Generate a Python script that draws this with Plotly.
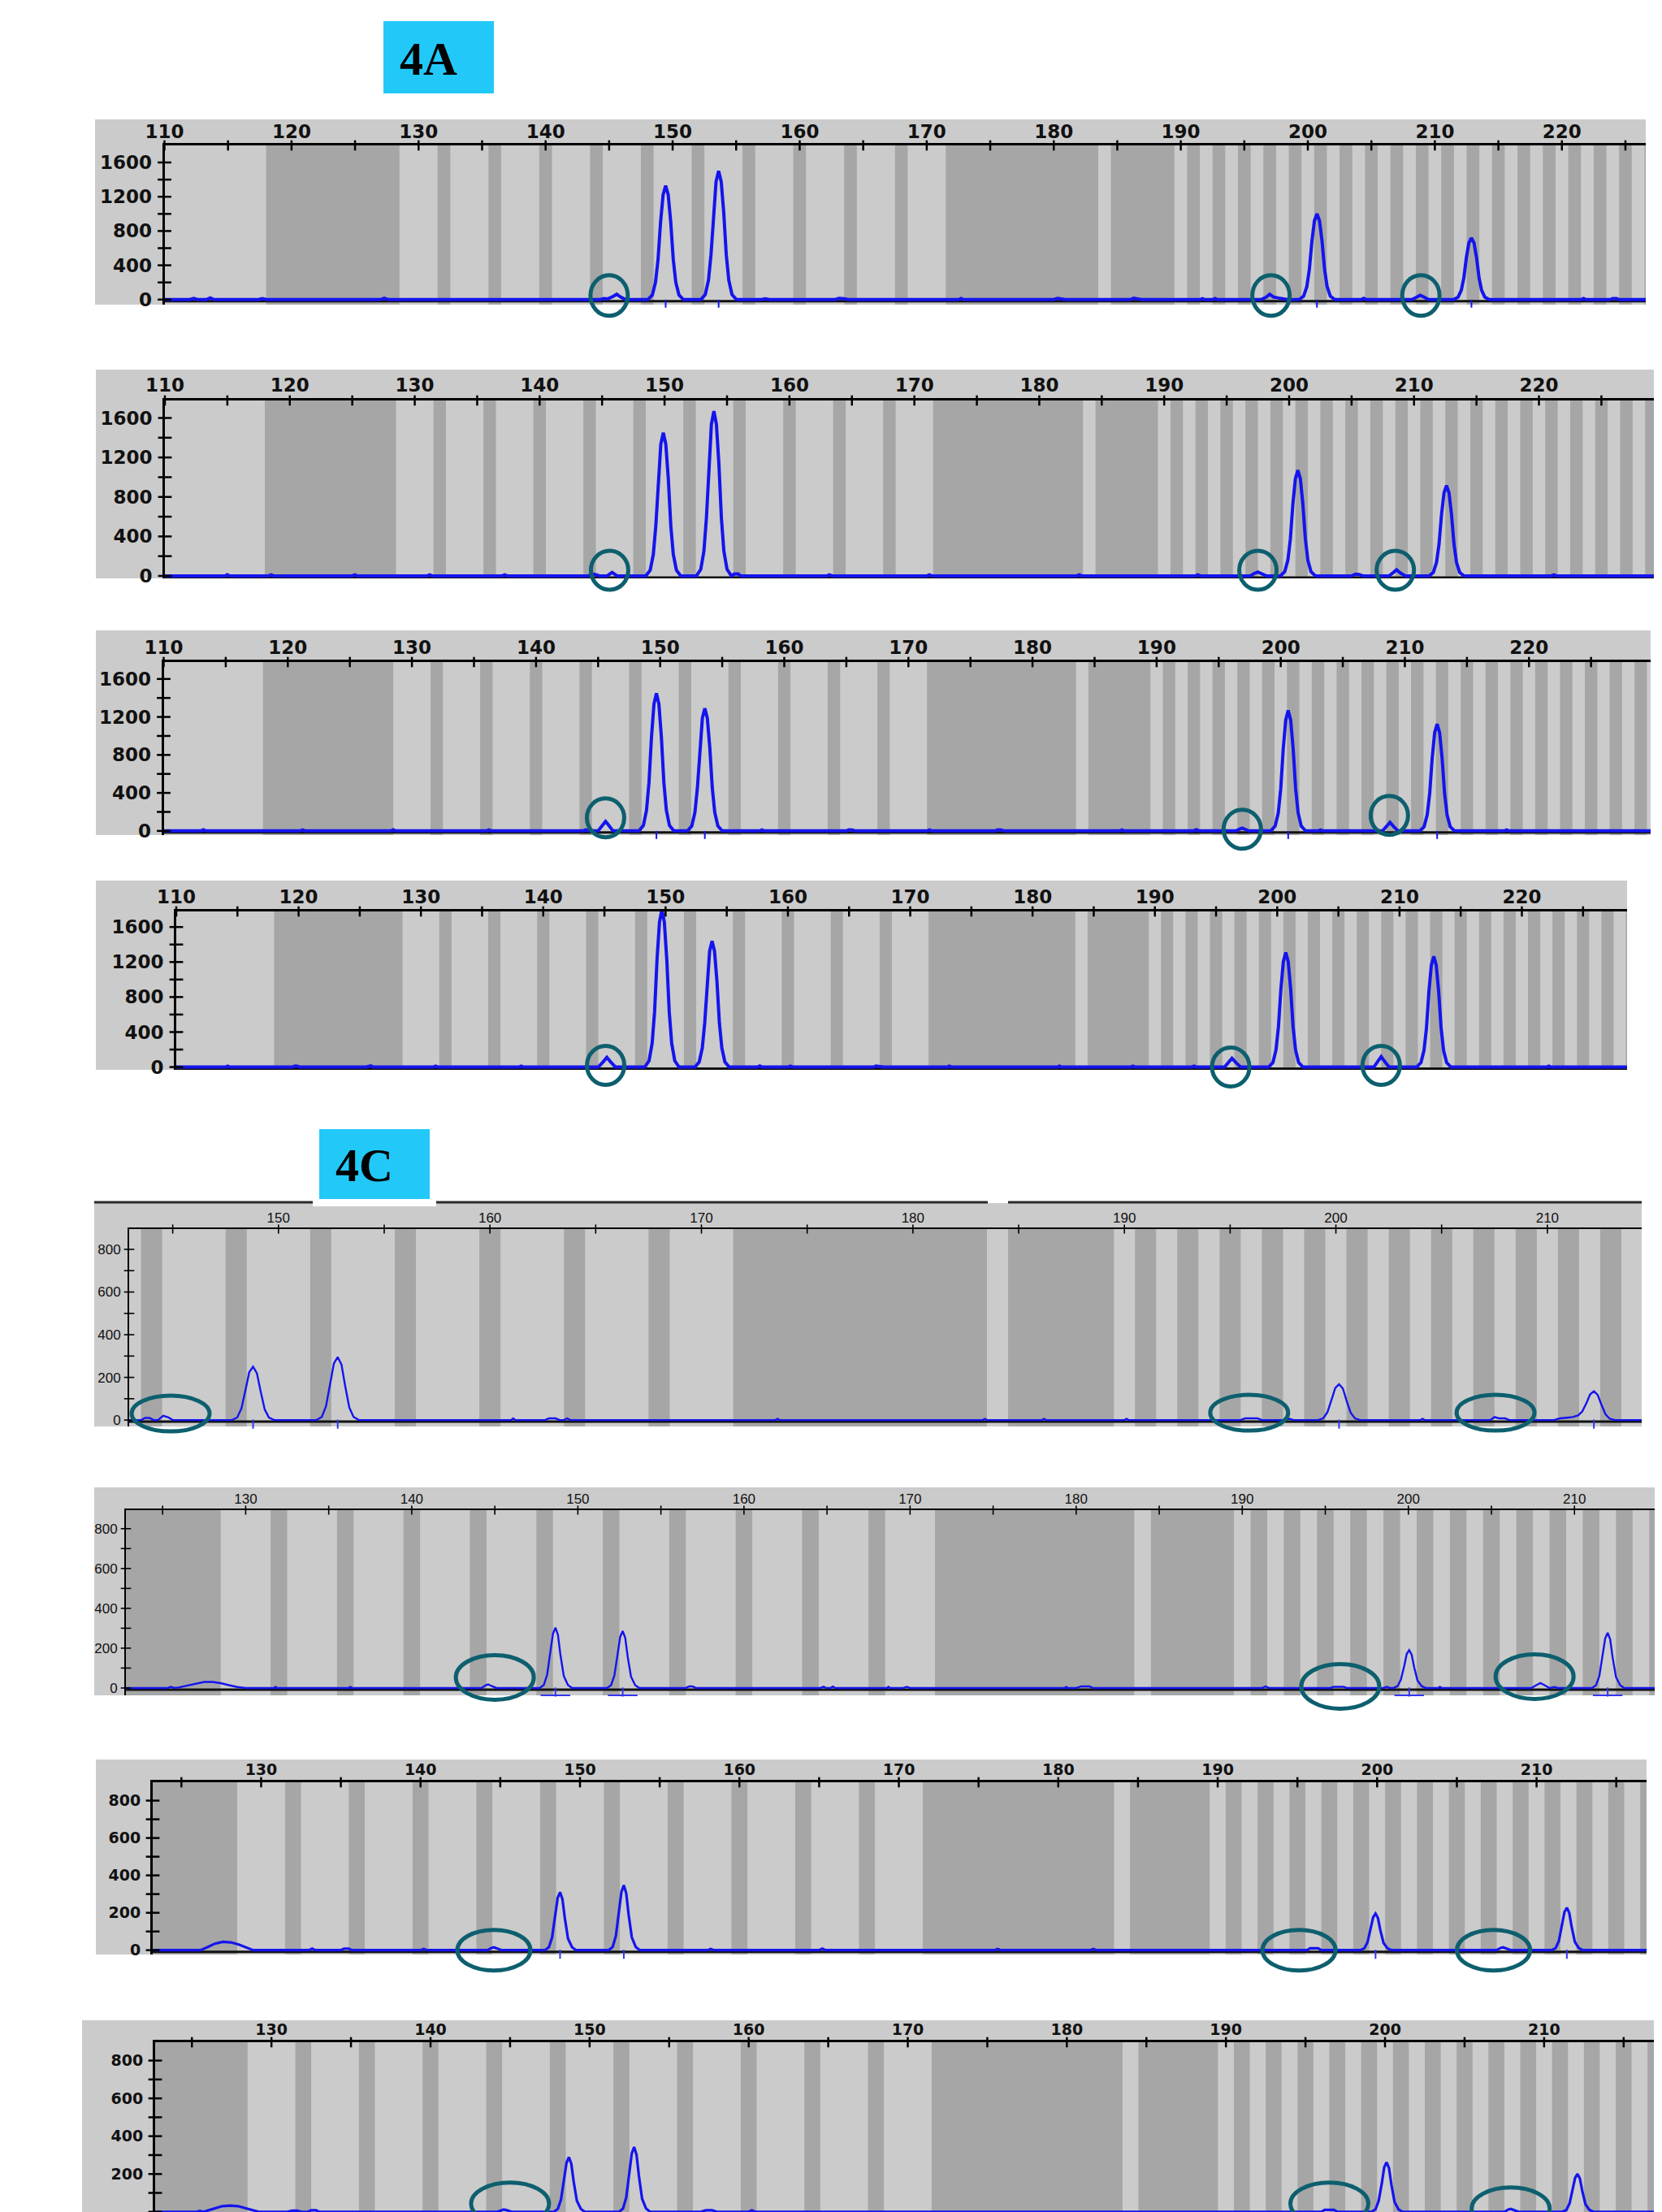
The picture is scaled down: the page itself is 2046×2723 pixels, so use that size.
import plotly.graph_objects as go

W, H = 2046, 2723

# ---------------- data ----------------
# dark allele bins (bp)
BINS = [[118.0, 128.5], [131.5, 132.5], [135.5, 136.5], [139.5, 140.5], [143.5, 144.5],
        [147.5, 148.5], [151.5, 152.5], [155.5, 156.5], [159.5, 160.5], [163.5, 164.5],
        [167.5, 168.5], [171.5, 183.5], [184.5, 189.5], [190.5, 191.5], [192.5, 193.5],
        [194.5, 195.5], [196.5, 197.5], [198.5, 199.5], [200.5, 201.5], [202.5, 203.5],
        [204.5, 205.5], [206.5, 207.5], [208.5, 209.5], [210.5, 211.5], [212.5, 213.5],
        [214.5, 215.5], [216.5, 217.5], [218.5, 219.5], [220.5, 221.5], [222.5, 223.5],
        [224.5, 225.5], [226.5, 227.5], [228.5, 229.5]]

# electropherogram traces (size bp, RFU)
P1 = [(110, 0), (112.0, 0), (112.3, 14), (112.6, 0), (113.3, 0), (113.6, 20), (113.9, 0), (117.4, 0), (117.7, 12), (118.0, 0),
      (127.0, 0), (127.3, 15), (127.6, 0), (144.3, 0), (144.6, 12), (144.9, 8), (145.3, 35), (145.6, 62), (145.9, 30), (146.3, 0),
      (148.05, 0), (148.4, 53), (148.65, 200), (148.85, 466), (149.05, 904), (149.25, 1224), (149.45, 1330), (149.65, 1224), (149.85, 904), (150.05, 466), (150.25, 200), (150.5, 53), (150.85, 0),
      (152.22, 0), (152.57, 60), (152.82, 225), (153.02, 525), (153.22, 1020), (153.42, 1380), (153.62, 1500), (153.82, 1380), (154.02, 1020), (154.22, 525), (154.42, 225), (154.67, 60), (155.02, 0),
      (157.0, 0), (157.3, 10), (157.6, 0), (162.8, 0), (163.1, 14), (163.5, 10), (163.8, 0),
      (172.5, 0), (172.7, 12), (172.9, 0), (180.0, 0), (180.3, 14), (180.6, 10), (180.9, 0), (186.0, 0), (186.3, 16), (186.6, 8), (186.9, 0),
      (191.5, 0), (191.7, 10), (191.9, 0), (192.5, 0), (192.7, 12), (192.9, 0),
      (196.3, 0), (196.7, 25), (197.0, 62), (197.3, 30), (197.7, 18), (198.1, 8), (198.4, 0),
      (199.32, 0), (199.67, 40), (199.92, 150), (200.12, 350), (200.32, 680), (200.52, 920), (200.72, 1000), (200.92, 920), (201.12, 680), (201.32, 350), (201.52, 150), (201.77, 40), (202.12, 0),
      (204.2, 0), (204.4, 14), (204.6, 0),
      (208.2, 0), (208.55, 28), (208.85, 50), (209.15, 28), (209.5, 0),
      (211.48, 0), (211.83, 29), (212.08, 108), (212.28, 252), (212.48, 490), (212.68, 662), (212.88, 720), (213.08, 662), (213.28, 490), (213.48, 252), (213.68, 108), (213.93, 29), (214.28, 0),
      (221.5, 0), (221.7, 12), (221.9, 0), (223.8, 0), (224.0, 12), (224.3, 12), (224.5, 0), (226.6, 0)]

P2 = [(110, 0), (114.8, 0), (115.0, 12), (115.2, 0), (118.3, 0), (118.5, 10), (118.7, 0), (125.0, 0), (125.2, 10), (125.4, 0),
      (131.0, 0), (131.2, 10), (131.4, 0), (137.0, 0), (137.2, 10), (137.4, 0),
      (143.9, 0), (144.2, 20), (144.5, 12), (144.8, 0), (145.4, 0), (145.8, 35), (146.2, 0),
      (148.5, 0), (148.85, 58), (149.1, 218), (149.3, 508), (149.5, 986), (149.7, 1334), (149.9, 1450), (150.1, 1334), (150.3, 986), (150.5, 508), (150.7, 218), (150.95, 58), (151.3, 0),
      (152.55, 0), (152.9, 67), (153.15, 250), (153.35, 585), (153.55, 1136), (153.75, 1536), (153.95, 1670), (154.15, 1536), (154.35, 1136), (154.55, 585), (154.75, 250), (155.0, 67), (155.35, 0),
      (155.6, 20), (155.9, 20), (156.1, 0), (163.0, 0), (163.2, 10), (163.4, 0), (171.0, 0), (171.2, 10), (171.4, 0),
      (183.0, 0), (183.2, 10), (183.4, 0), (192.5, 0), (192.7, 10), (192.9, 0),
      (196.9, 0), (197.2, 25), (197.5, 40), (197.8, 22), (198.2, 0),
      (199.3, 0), (199.65, 43), (199.9, 160), (200.1, 375), (200.3, 728), (200.5, 984), (200.7, 1070), (200.9, 984), (201.1, 728), (201.3, 375), (201.5, 160), (201.75, 43), (202.1, 0),
      (205.0, 0), (205.3, 18), (205.6, 15), (205.9, 0),
      (208.0, 0), (208.3, 30), (208.6, 62), (208.9, 30), (209.3, 0),
      (211.2, 0), (211.55, 37), (211.8, 137), (212.0, 320), (212.2, 622), (212.4, 842), (212.6, 915), (212.8, 842), (213.0, 622), (213.2, 320), (213.4, 137), (213.65, 37), (214.0, 0),
      (221.0, 0), (221.2, 10), (221.4, 0), (229.2, 0)]

P3 = [(110, 0), (113.0, 0), (113.2, 12), (113.4, 0), (121.0, 0), (121.2, 10), (121.4, 0), (128.3, 0), (128.5, 12), (128.7, 0),
      (136.0, 0), (136.2, 10), (136.4, 0),
      (143.8, 0), (144.0, 12), (144.2, 0), (145.0, 0), (145.35, 55), (145.6, 100), (145.85, 60), (146.2, 0),
      (148.3, 0), (148.65, 58), (148.9, 218), (149.1, 508), (149.3, 986), (149.5, 1334), (149.7, 1450), (149.9, 1334), (150.1, 986), (150.3, 508), (150.5, 218), (150.75, 58), (151.1, 0),
      (152.2, 0), (152.55, 52), (152.8, 194), (153.0, 452), (153.2, 877), (153.4, 1187), (153.6, 1290), (153.8, 1187), (154.0, 877), (154.2, 452), (154.4, 194), (154.65, 52), (155.0, 0),
      (158.0, 0), (158.2, 10), (158.4, 0), (165.0, 0), (165.2, 12), (165.5, 10), (165.7, 0), (171.5, 0), (171.7, 10), (171.9, 0),
      (177.0, 0), (177.2, 12), (177.5, 10), (177.7, 0), (187.0, 0), (187.2, 10), (187.4, 0), (193.0, 0), (193.2, 14), (193.4, 0),
      (196.4, 0), (196.7, 20), (196.9, 30), (197.1, 18), (197.4, 0),
      (199.2, 0), (199.55, 51), (199.8, 190), (200.0, 444), (200.2, 864), (200.4, 1168), (200.6, 1270), (200.8, 1168), (201.0, 864), (201.2, 444), (201.4, 190), (201.65, 51), (202.0, 0),
      (203.0, 0), (203.2, 10), (203.4, 0),
      (208.2, 0), (208.5, 45), (208.8, 90), (209.1, 45), (209.45, 0),
      (211.2, 0), (211.55, 45), (211.8, 169), (212.0, 394), (212.2, 765), (212.4, 1035), (212.6, 1125), (212.8, 1035), (213.0, 765), (213.2, 394), (213.4, 169), (213.65, 45), (214.0, 0),
      (218.0, 0), (218.2, 10), (218.4, 0), (229.8, 0)]

P4 = [(110, 0), (114.0, 0), (114.2, 10), (114.4, 0), (119.5, 0), (119.7, 12), (119.9, 10), (120.1, 0), (125.5, 0), (125.7, 10), (125.9, 14), (126.1, 0),
      (131.0, 0), (131.2, 10), (131.4, 0), (138.0, 0), (138.2, 10), (138.4, 0),
      (144.5, 0), (144.9, 60), (145.2, 110), (145.5, 60), (145.9, 0),
      (148.3, 0), (148.65, 72), (148.9, 270), (149.1, 630), (149.3, 1224), (149.5, 1656), (149.7, 1800), (149.9, 1656), (150.1, 1224), (150.3, 630), (150.5, 270), (150.75, 72), (151.1, 0),
      (152.4, 0), (152.75, 58), (153.0, 216), (153.2, 504), (153.4, 979), (153.6, 1325), (153.8, 1440), (154.0, 1325), (154.2, 979), (154.4, 504), (154.6, 216), (154.85, 58), (155.2, 0),
      (157.5, 0), (157.7, 12), (157.9, 0), (160.0, 0), (160.2, 10), (160.4, 0), (167.0, 0), (167.2, 12), (167.6, 10), (167.8, 0),
      (173.0, 0), (173.2, 10), (173.4, 0), (182.0, 0), (182.2, 10), (182.4, 0), (188.0, 0), (188.2, 10), (188.4, 0), (193.0, 0), (193.2, 10), (193.4, 0),
      (195.7, 0), (196.0, 55), (196.3, 100), (196.6, 55), (197.0, 0),
      (199.3, 0), (199.65, 52), (199.9, 196), (200.1, 458), (200.3, 891), (200.5, 1205), (200.7, 1310), (200.9, 1205), (201.1, 891), (201.3, 458), (201.5, 196), (201.75, 52), (202.1, 0),
      (207.9, 0), (208.2, 60), (208.5, 120), (208.8, 60), (209.15, 0),
      (211.4, 0), (211.75, 51), (212.0, 190), (212.2, 443), (212.4, 860), (212.6, 1164), (212.8, 1265), (213.0, 1164), (213.2, 860), (213.4, 443), (213.6, 190), (213.85, 51), (214.2, 0),
      (222.0, 0), (222.2, 10), (222.4, 0), (228.6, 0)]

P5 = [(142.94, 0), (143.5, 0), (143.7, 10), (143.9, 10), (144.1, 0), (144.3, 0), (144.55, 20), (144.8, 12), (145.0, 0),
      (147.8, 0), (148.05, 12), (148.25, 55), (148.45, 145), (148.62, 225), (148.8, 250), (148.98, 220), (149.15, 138), (149.35, 50), (149.55, 12), (149.8, 0),
      (151.8, 0), (152.05, 15), (152.25, 65), (152.45, 171), (152.62, 265), (152.8, 295), (152.98, 260), (153.15, 162), (153.35, 59), (153.55, 15), (153.8, 0),
      (161.0, 0), (161.1, 8), (161.2, 0), (162.6, 0), (162.8, 8), (163.1, 8), (163.3, 0), (163.5, 0), (163.65, 8), (163.8, 0),
      (173.5, 0), (173.6, 6), (173.7, 0), (183.3, 0), (183.4, 6), (183.5, 0), (186.1, 0), (186.2, 6), (186.3, 0), (190.0, 0), (190.1, 6), (190.2, 0),
      (195.5, 0), (195.7, 8), (196.3, 8), (196.5, 0), (197.6, 0), (197.8, 6), (198.0, 0),
      (199.15, 0), (199.4, 8), (199.6, 37), (199.8, 97), (199.97, 150), (200.15, 168), (200.33, 148), (200.5, 92), (200.7, 34), (200.9, 8), (201.15, 0),
      (204.0, 0), (204.1, 6), (204.2, 0),
      (207.3, 0), (207.5, 14), (207.7, 8), (208.0, 8), (208.2, 0),
      (210.3, 0), (210.6, 8), (211.0, 12),
      (211.2, 14), (211.45, 22), (211.65, 40), (211.85, 80), (212.02, 120), (212.2, 135), (212.38, 118), (212.55, 74), (212.75, 27), (212.95, 6), (213.2, 0),
      (214.46, 0)]

P6 = [(122.79, 0), (125.3, 0), (125.5, 6), (125.7, 0), (126.0, 3), (126.5, 12), (127.0, 22), (127.5, 30), (128.0, 30), (128.5, 24), (129.0, 14), (129.5, 5), (130.0, 0),
      (131.7, 0), (131.8, 6), (131.9, 0), (136.2, 0), (136.3, 6), (136.4, 0),
      (144.2, 0), (144.45, 14), (144.6, 18), (144.8, 10), (145.1, 0),
      (147.7, 0), (147.95, 15), (148.15, 67), (148.35, 176), (148.5, 273), (148.65, 303), (148.8, 267), (148.95, 167), (149.15, 61), (149.4, 15), (149.65, 0),
      (151.75, 0), (152.0, 14), (152.2, 63), (152.4, 166), (152.55, 257), (152.7, 286), (152.85, 252), (153.0, 157), (153.2, 57), (153.45, 14), (153.7, 0),
      (156.5, 0), (156.7, 8), (156.9, 8), (157.1, 0), (164.6, 0), (164.8, 7), (164.95, 0), (165.2, 0), (165.35, 7), (165.5, 0), (168.6, 0), (168.7, 6), (168.8, 0),
      (169.6, 0), (169.8, 6), (170.0, 0), (179.3, 0), (179.4, 6), (179.5, 0), (180.0, 0), (180.3, 8), (180.8, 8), (181.0, 0), (191.2, 0), (191.4, 8), (191.6, 0),
      (195.3, 0), (195.5, 6), (196.1, 6), (196.3, 0), (198.5, 0), (198.7, 6), (198.9, 0),
      (199.1, 0), (199.35, 9), (199.55, 42), (199.75, 110), (199.9, 171), (200.05, 190), (200.2, 167), (200.35, 104), (200.55, 38), (200.8, 9), (201.05, 0),
      (201.8, 0), (201.9, 6), (202.0, 0),
      (207.4, 0), (207.7, 14), (207.95, 25), (208.2, 14), (208.5, 0), (208.8, 5), (209.0, 0),
      (211.05, 0), (211.3, 14), (211.5, 61), (211.7, 161), (211.85, 249), (212.0, 277), (212.15, 244), (212.3, 152), (212.5, 55), (212.75, 14), (213.0, 0),
      (214.83, 0)]

P7 = [(123.2, 0), (126.2, 0), (126.6, 15), (127.1, 35), (127.6, 45), (128.1, 42), (128.6, 30), (129.1, 12), (129.5, 0),
      (133.0, 0), (133.2, 8), (133.4, 0), (135.0, 0), (135.2, 8), (135.5, 8), (135.7, 0), (140.0, 0), (140.2, 6), (140.4, 0),
      (144.2, 0), (144.45, 12), (144.6, 15), (144.8, 10), (145.1, 0),
      (147.8, 0), (148.05, 16), (148.25, 68), (148.45, 180), (148.6, 280), (148.75, 310), (148.9, 273), (149.05, 171), (149.25, 62), (149.5, 16), (149.75, 0),
      (151.8, 0), (152.05, 17), (152.25, 76), (152.45, 201), (152.6, 312), (152.75, 347), (152.9, 305), (153.05, 191), (153.25, 69), (153.5, 17), (153.75, 0),
      (158.0, 0), (158.2, 6), (158.4, 0), (165.0, 0), (165.2, 8), (165.4, 0), (176.0, 0), (176.2, 6), (176.4, 0), (182.0, 0), (182.2, 6), (182.4, 0),
      (195.6, 0), (195.8, 10), (196.3, 10), (196.5, 0),
      (198.95, 0), (199.2, 10), (199.4, 43), (199.6, 114), (199.75, 176), (199.9, 196), (200.05, 172), (200.2, 108), (200.4, 39), (200.65, 10), (200.9, 0),
      (207.5, 0), (207.75, 12), (207.9, 15), (208.1, 10), (208.4, 0),
      (210.95, 0), (211.2, 11), (211.4, 50), (211.6, 132), (211.75, 204), (211.9, 227), (212.05, 200), (212.2, 125), (212.4, 45), (212.65, 11), (212.9, 0),
      (216.9, 0)]

P8 = [(122.69, 0), (125.3, 0), (125.5, 5), (125.7, 0), (125.9, 4), (126.4, 16), (126.9, 30), (127.4, 33), (127.9, 30), (128.4, 18), (128.9, 6), (129.2, 0),
      (131.0, 0), (131.3, 6), (131.6, 6), (131.9, 0), (132.3, 0), (132.5, 8), (132.8, 8), (133.0, 0),
      (144.2, 0), (144.45, 9), (144.6, 12), (144.8, 8), (145.1, 0),
      (147.75, 0), (148.0, 15), (148.2, 64), (148.4, 168), (148.55, 260), (148.7, 289), (148.85, 254), (149.0, 159), (149.2, 58), (149.45, 15), (149.7, 0),
      (151.85, 0), (152.1, 17), (152.3, 75), (152.5, 199), (152.65, 309), (152.8, 343), (152.95, 302), (153.1, 189), (153.3, 69), (153.55, 17), (153.8, 0),
      (157.0, 0), (157.3, 8), (157.7, 8), (158.0, 0), (160.0, 0), (160.2, 8), (160.4, 0),
      (196.0, 0), (196.2, 10), (196.8, 10), (197.0, 0),
      (199.15, 0), (199.4, 13), (199.6, 58), (199.8, 152), (199.95, 236), (200.1, 262), (200.25, 231), (200.4, 144), (200.6, 52), (200.85, 13), (201.1, 0),
      (207.5, 0), (207.75, 12), (207.9, 15), (208.1, 10), (208.4, 0),
      (211.15, 0), (211.4, 10), (211.6, 44), (211.8, 116), (211.95, 180), (212.1, 200), (212.25, 176), (212.4, 110), (212.6, 40), (212.85, 10), (213.1, 0),
      (216.9, 0)]

# called allele peaks (bp)
CALLS = [[149.45, 153.62, 200.72, 212.88], [149.9, 153.95, 200.7, 212.6], [149.7, 153.6, 200.6, 212.6],
         [149.7, 153.8, 200.7, 212.8], [148.8, 152.8, 200.15, 212.2], [148.65, 152.7, 200.05, 212.0],
         [148.75, 152.75, 199.9, 211.9], [148.7, 152.8, 200.1, 212.1]]

# circled stutter / minor products (bp)
CIRCLES = [[145.0, 197.1, 208.9], [145.6, 197.5, 208.5], [145.6, 196.9, 208.75], [145.1, 196.2, 208.5],
           [144.9, 195.9, 207.55], [145.0, 195.9, 207.6], [144.6, 195.1, 207.3], [145.0, 196.5, 207.9]]

X_LABELS_A = [110, 120, 130, 140, 150, 160, 170, 180, 190, 200, 210, 220]
X_LABELS_B = [150, 160, 170, 180, 190, 200, 210]
X_LABELS_C = [130, 140, 150, 160, 170, 180, 190, 200, 210]
Y_LABELS_A = [0, 400, 800, 1200, 1600]
Y_LABELS_C = [0, 200, 400, 600, 800]

PANEL_LABELS = ["4A", "4C"]

# ---------------- layout geometry (pixels) ----------------
FONT_A = dict(family="DejaVu Sans", size=23, color="#111111", weight="bold")
FONT_B = dict(family="Liberation Sans, Arial", size=17, color="#111111")
FONT_C = dict(family="DejaVu Sans", size=19, color="#111111", weight="bold")

PANELS = [
    dict(data=P1, box=[117, 2026, 147, 375], plot=[202.5, 2026, 179, 375], xr=[110, 226.6], yr=[-59, 1799],
         xl=X_LABELS_A, yl=Y_LABELS_A, ystep=200, font=FONT_A, lw=3, tw=4.0, circ=(46, 50), cdy=[5, 5, 5], style="A", xso=-3),
    dict(data=P2, box=[118, 2036, 455, 712], plot=[203, 2036, 493, 712], xr=[110, 229.2], yr=[-25, 1777],
         xl=X_LABELS_A, yl=Y_LABELS_A, ystep=200, font=FONT_A, lw=3, tw=4.0, circ=(46, 48), cdy=[7, 7, 7], style="A", xso=-1),
    dict(data=P3, box=[118, 2032, 776, 1028], plot=[201.5, 2032, 815, 1028], xr=[110, 229.8], yr=[-44, 1778],
         xl=X_LABELS_A, yl=Y_LABELS_A, ystep=200, font=FONT_A, lw=3, tw=4.0, circ=(46, 48), cdy=[16, 2, 19], style="A", xso=-2),
    dict(data=P4, box=[118, 2003, 1084, 1317], plot=[217, 2003, 1122, 1317], xr=[110, 228.6], yr=[-32, 1778],
         xl=X_LABELS_A, yl=Y_LABELS_A, ystep=200, font=FONT_A, lw=3, tw=4.0, circ=(46, 48), cdy=[2, 0, 2], style="A", xso=-2),
    dict(data=P5, box=[116, 2021, 1481, 1756], plot=[159, 2021, 1513, 1756], xr=[142.94, 214.46], yr=[-30, 895],
         xl=X_LABELS_B, yl=Y_LABELS_C, ystep=100, font=FONT_B, lw=2, tw=2.4, circ=(96, 44), cdy=[8, 9, 9], style="B", xso=-1),
    dict(data=P6, box=[116, 2037, 1831, 2087], plot=[155, 2037, 1859, 2087], xr=[122.79, 214.83], yr=[-37, 893],
         xl=X_LABELS_C, yl=Y_LABELS_C, ystep=100, font=FONT_B, lw=2, tw=2.4, circ=(96, 55), cdy=[13, 2, 14], style="B", xso=-1),
    dict(data=P7, box=[118, 2027, 2166, 2406], plot=[188, 2027, 2194, 2406], xr=[123.2, 216.9], yr=[-23, 898],
         xl=X_LABELS_C, yl=Y_LABELS_C, ystep=100, font=FONT_C, lw=3, tw=3.2, circ=(90, 50), cdy=[0, 0, 0], style="C", xso=-2),
    dict(data=P8, box=[101, 2036, 2487, 2723], plot=[191, 2036, 2514, 2723], xr=[122.69, 216.9], yr=[-1, 897],
         xl=X_LABELS_C, yl=Y_LABELS_C, ystep=100, font=FONT_C, lw=3, tw=3.2, circ=(96, 52), cdy=[10, 10, 4], style="C", xso=-2),
]

BOX_GRAY = "#cbcbcb"
BIN_GRAY = "#a6a6a6"
TRACE_BLUE = "#1414ee"
CIRCLE_TEAL = "#0d5f6e"
LABEL_CYAN = "#22c9f8"

fig = go.Figure()
shapes = []
annotations = []

def px(xp):
    return xp / W

def py(yp):
    return 1 - yp / H

# panel gray boxes (paper)
for p in PANELS:
    bx0, bx1, by0, by1 = p["box"]
    shapes.append(dict(type="rect", xref="paper", yref="paper", x0=px(bx0), x1=px(bx1), y0=py(by1), y1=py(by0),
                       fillcolor=BOX_GRAY, line=dict(width=0), layer="below"))

# 4C top border with gaps, white strip under label
for seg in [(116, 385), (537, 1216), (1241, 2021)]:
    shapes.append(dict(type="line", xref="paper", yref="paper", x0=px(seg[0]), x1=px(seg[1]), y0=py(1480), y1=py(1480),
                       line=dict(color="#2a2a2a", width=3), layer="below"))
shapes.append(dict(type="rect", xref="paper", yref="paper", x0=px(385), x1=px(537), y0=py(1485), y1=py(1470),
                   fillcolor="white", line=dict(width=0), layer="below"))

# label boxes
LABEL_BOXES = [[472, 608, 26, 115], [393, 529, 1390, 1476]]
LABEL_TEXT_POS = [[527, 72], [448, 1434]]
for (x0, x1, y0, y1), (tx, ty), txt in zip(LABEL_BOXES, LABEL_TEXT_POS, PANEL_LABELS):
    shapes.append(dict(type="rect", xref="paper", yref="paper", x0=px(x0), x1=px(x1), y0=py(y1), y1=py(y0),
                       fillcolor=LABEL_CYAN, line=dict(width=0), layer="below"))
    annotations.append(dict(xref="paper", yref="paper", x=px(tx), y=py(ty), text=txt, showarrow=False,
                            xanchor="center", yanchor="middle",
                            font=dict(family="Liberation Serif", size=58, color="black", weight="bold")))

for i, p in enumerate(PANELS, start=1):
    s = "" if i == 1 else str(i)
    xa, ya = "x" + s, "y" + s
    xl_px, xr_px, yt_px, yb_px = p["plot"]
    x0r, x1r = p["xr"]
    y0r, y1r = p["yr"]
    yscale = (y1r - y0r) / (yb_px - yt_px)   # data units per pixel

    fig.layout["xaxis" + s] = dict(domain=[px(xl_px), px(xr_px)], range=[x0r, x1r], side="top", anchor=ya,
                                   automargin=False,
                                   showline=True, linecolor="black", linewidth=p["lw"], ticks="",
                                   tickmode="array", tickvals=p["xl"], ticktext=[str(v) for v in p["xl"]],
                                   tickfont=p["font"], ticklabelstandoff=p["xso"],
                                   showgrid=False, zeroline=False, fixedrange=True)
    fig.layout["yaxis" + s] = dict(domain=[py(yb_px), py(yt_px)], range=[y0r, y1r], anchor=xa,
                                   automargin=False,
                                   showline=True, linecolor="black", linewidth=p["lw"], ticks="",
                                   tickmode="array", tickvals=p["yl"], ticktext=[str(v) for v in p["yl"]],
                                   tickfont=p["font"], ticklabelstandoff=8 if p["style"] != "B" else 5,
                                   showgrid=False, zeroline=False, fixedrange=True)

    # bins
    for b0, b1 in BINS:
        c0, c1 = max(b0, x0r), min(b1, x1r)
        if c1 <= c0:
            continue
        shapes.append(dict(type="rect", xref=xa, yref=ya, x0=c0, x1=c1, y0=y0r, y1=y1r,
                           fillcolor=BIN_GRAY, line=dict(width=0), layer="below"))
    # black baseline just under zero
    shapes.append(dict(type="line", xref=xa, yref=ya, x0=x0r, x1=x1r, ysizemode="pixel", yanchor=0,
                       y0=-2, y1=-2, line=dict(color="#111111", width=3), layer="below"))

    # trace
    xs = [pt[0] for pt in p["data"]]
    ys = [pt[1] for pt in p["data"]]
    fig.add_trace(go.Scatter(x=xs, y=ys, xaxis=xa, yaxis=ya, mode="lines",
                             line=dict(color=TRACE_BLUE, width=p["tw"]), hoverinfo="skip", showlegend=False))

    # crossing tick marks
    tick_w = 2.5 if p["style"] != "B" else 1.6
    xt = [v for v in range(110, 231, 5) if x0r - 1e-6 <= v <= x1r]
    fig.add_trace(go.Scatter(x=xt, y=[y1r] * len(xt), xaxis=xa, yaxis=ya, mode="markers", cliponaxis=False,
                             marker=dict(symbol="line-ns", size=9 if p["style"] != "B" else 8,
                                         line=dict(color="black", width=tick_w)),
                             hoverinfo="skip", showlegend=False))
    yt = [v for v in range(0, 2000, p["ystep"]) if v <= y1r]
    fig.add_trace(go.Scatter(x=[x0r] * len(yt), y=yt, xaxis=xa, yaxis=ya, mode="markers", cliponaxis=False,
                             marker=dict(symbol="line-ew", size=12 if p["style"] != "B" else 9,
                                         line=dict(color="black", width=tick_w)),
                             hoverinfo="skip", showlegend=False))

    # allele call markers under peaks
    calls = CALLS[i - 1]
    if p["style"] == "A":
        fig.add_trace(go.Scatter(x=calls, y=[-5 * yscale] * len(calls), xaxis=xa, yaxis=ya, mode="markers",
                                 cliponaxis=False,
                                 marker=dict(symbol="line-ns", size=7, line=dict(color=TRACE_BLUE, width=2)),
                                 hoverinfo="skip", showlegend=False))
    else:
        fig.add_trace(go.Scatter(x=calls, y=[-5 * yscale] * len(calls), xaxis=xa, yaxis=ya, mode="markers",
                                 cliponaxis=False,
                                 marker=dict(symbol="line-ns", size=8, line=dict(color="#3535f0", width=2)),
                                 hoverinfo="skip", showlegend=False))
        fig.add_trace(go.Scatter(x=calls, y=[-9 * yscale] * len(calls), xaxis=xa, yaxis=ya, mode="markers",
                                 cliponaxis=False,
                                 marker=dict(symbol="line-ew", size=26, line=dict(color="#3535f0", width=2)),
                                 hoverinfo="skip", showlegend=False))

    # circles (domain refs so they are not clipped)
    cw, ch = p["circ"]
    zero_frac = (0 - y0r) / (y1r - y0r)
    for cx, dy in zip(CIRCLES[i - 1], p["cdy"]):
        fx = (cx - x0r) / (x1r - x0r)
        shapes.append(dict(type="circle", xref=xa + " domain", yref=ya + " domain",
                           xsizemode="pixel", ysizemode="pixel", xanchor=fx, yanchor=zero_frac,
                           x0=-cw / 2, x1=cw / 2, y0=dy - ch / 2, y1=dy + ch / 2,
                           line=dict(color=CIRCLE_TEAL, width=5), fillcolor="rgba(0,0,0,0)", layer="above"))

fig.update_layout(width=W, height=H, margin=dict(l=0, r=0, t=0, b=0, pad=0, autoexpand=False),
                  paper_bgcolor="white", plot_bgcolor=BOX_GRAY, showlegend=False,
                  shapes=shapes, annotations=annotations, hovermode=False)

fig.write_html("out.html", config={"displayModeBar": False},
               post_script="document.body.style.margin='0px';document.body.style.overflow='hidden';")
